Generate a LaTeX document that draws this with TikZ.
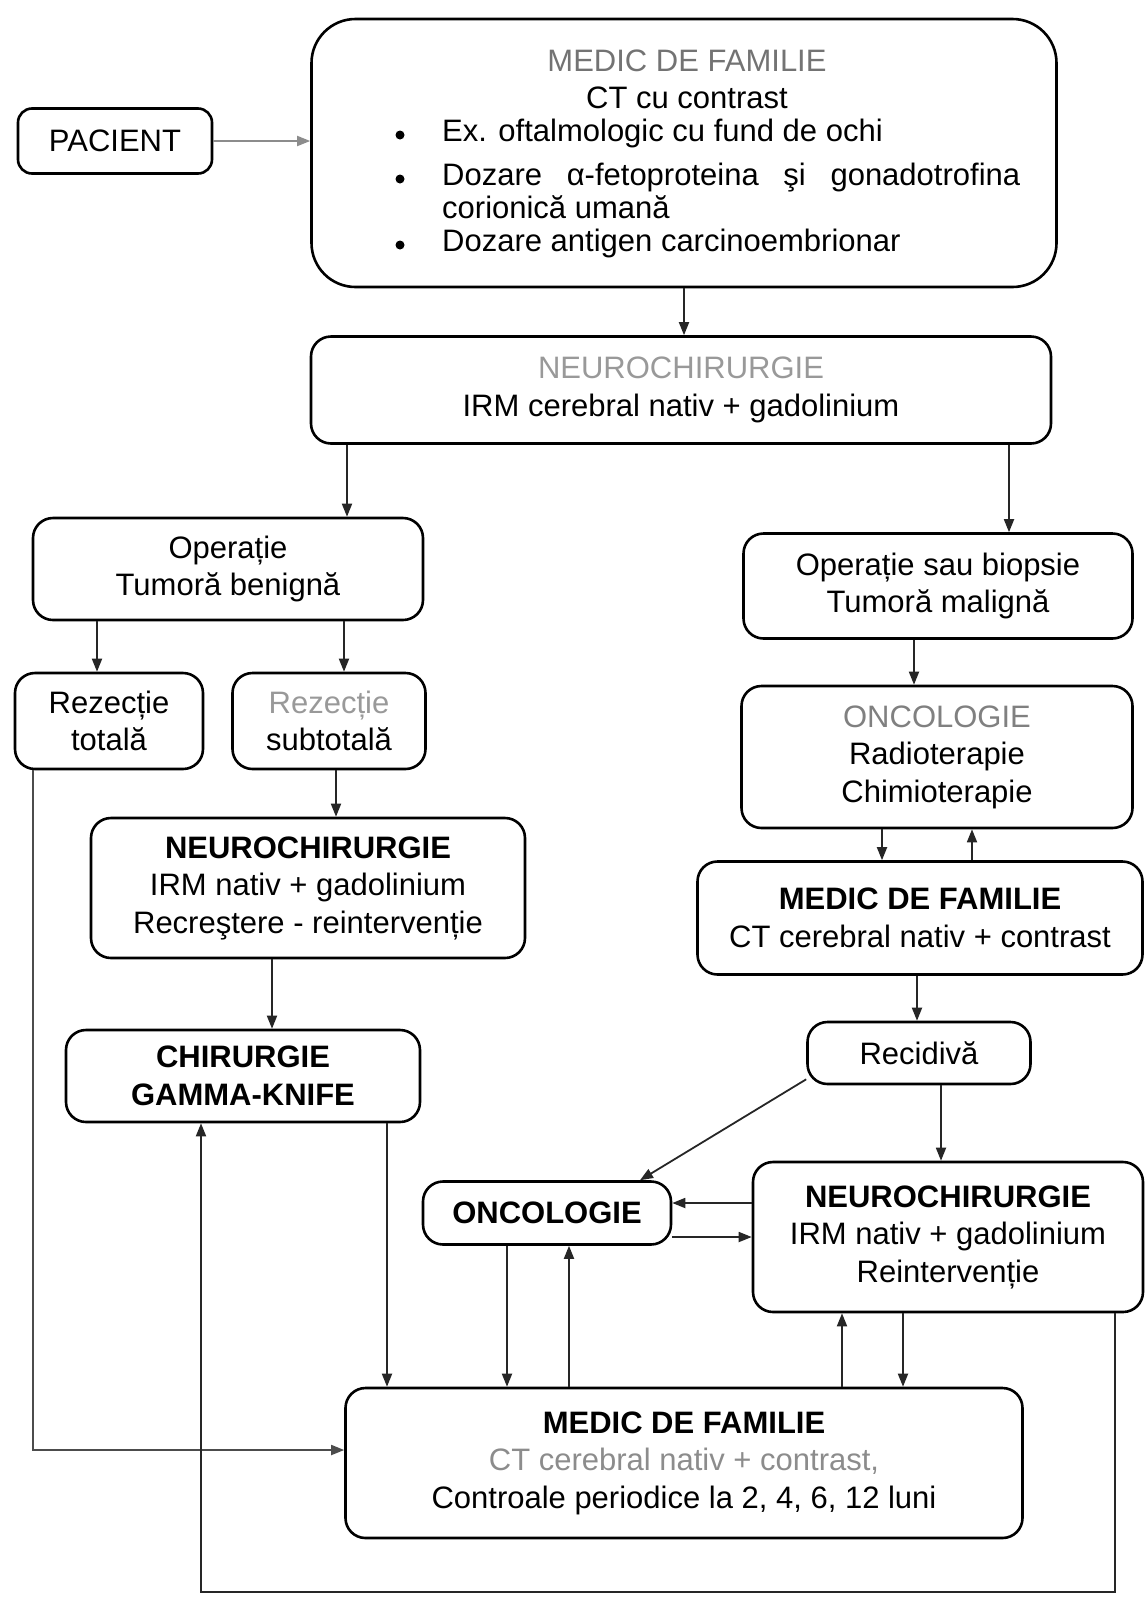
\documentclass[tikz,border=0pt]{standalone}
\usepackage{fontspec}
\setmainfont{Liberation Sans}
\usetikzlibrary{arrows.meta}

\begin{document}
\begin{tikzpicture}[
    x=1pt, y=-1pt,
    >={Triangle[length=13pt, width=10pt]},
    font=\fontsize{31}{37.5}\selectfont,
    box/.style={draw, line width=2.6pt, rounded corners=20pt, align=center, inner sep=0pt},
    txt/.style={inner sep=0pt, text height=22pt, text depth=6pt},
    dot/.style={circle, fill, inner sep=0pt, minimum size=9pt},
    link/.style={->, line width=1.8pt, black!85},
    faint/.style={->, line width=1.8pt, black!45}
]
    \useasboundingbox (0,0) rectangle (1146,1607);

    % Patient and first visit
    \node[box, minimum width=194pt, minimum height=65pt, rounded corners=14pt] (pacient) at (115,141) {PACIENT};
    \node[box, minimum width=745pt, minimum height=268pt, rounded corners=44pt] (medic1) at (684,153) {};
    \node[txt, black!55] (medic1t) at (687,63) {MEDIC DE FAMILIE};
    \node[txt] (medic1c) at (687,100) {CT cu contrast};
    % Bullet list
    \foreach \y/\n in {135/a, 179/b, 245/c}
        \node[dot] (dot\n) at (400,\y) {};
    \node[txt, anchor=west] (itema) at (442,133) {Ex. oftalmologic cu fund de ochi};
    \node[txt, anchor=west] (itemb) at (442,177) {\makebox[578pt][s]{Dozare α-fetoproteina şi gonadotrofina}};
    \node[txt, anchor=west] (itemb2) at (442,210) {corionică umană};
    \node[txt, anchor=west] (itemc) at (442,243) {Dozare antigen carcinoembrionar};

    % Surgery
    \node[box, minimum width=740pt, minimum height=107pt] (neuro1) at (681,390)
        {\textcolor{black!40}{NEUROCHIRURGIE}\\IRM cerebral nativ + gadolinium};
    \node[box, minimum width=390pt, minimum height=102pt] (opben) at (228,569) {Operație\\Tumoră benignă};
    \node[box, minimum width=389pt, minimum height=105pt] (opmal) at (938,586) {Operație sau biopsie\\Tumoră malignă};

    % Benign branch
    \node[box, minimum width=188pt, minimum height=96pt] (reztot) at (109,721) {Rezecție\\totală};
    \node[box, minimum width=193pt, minimum height=96pt] (rezsub) at (329,721) {\textcolor{black!40}{Rezecție}\\subtotală};
    \node[box, minimum width=434pt, minimum height=140pt] (neuro2) at (308,888)
        {\textbf{NEUROCHIRURGIE}\\IRM nativ + gadolinium\\Recreştere - reintervenție};
    \node[box, minimum width=354pt, minimum height=92pt] (chir) at (243,1076) {\textbf{CHIRURGIE}\\\textbf{GAMMA-KNIFE}};

    % Malignant branch
    \node[box, minimum width=391pt, minimum height=142pt] (onco1) at (937,757)
        {\textcolor{black!50}{ONCOLOGIE}\\Radioterapie\\Chimioterapie};
    \node[box, minimum width=445pt, minimum height=113pt] (medic2) at (920,918)
        {\textbf{MEDIC DE FAMILIE}\\CT cerebral nativ + contrast};
    \node[box, minimum width=223pt, minimum height=62pt] (recid) at (919,1053) {Recidivă};
    \node[box, minimum width=248pt, minimum height=63pt] (onco2) at (547,1213) {\textbf{ONCOLOGIE}};
    \node[box, minimum width=390pt, minimum height=150pt] (neuro3) at (948,1237)
        {\textbf{NEUROCHIRURGIE}\\IRM nativ + gadolinium\\Reintervenție};

    % Follow-up
    \node[box, minimum width=677pt, minimum height=150pt] (medic3) at (684,1463)
        {\textbf{MEDIC DE FAMILIE}\\\textcolor{black!45}{CT cerebral nativ + contrast,}\\Controale periodice la 2, 4, 6, 12 luni};

    % Arrows, top part
    \draw[faint] (pacient.east) -- (pacient.east -| medic1.west);
    \draw[link] (medic1.south) -- (medic1.south |- neuro1.north);
    \draw[link] (347,0 |- neuro1.south) -- (347,0 |- opben.north);
    \draw[link] (1009,0 |- neuro1.south) -- (1009,0 |- opmal.north);
    \draw[link] (97,0 |- opben.south) -- (97,0 |- reztot.north);
    \draw[link] (344,0 |- opben.south) -- (344,0 |- rezsub.north);
    \draw[link] (914,0 |- opmal.south) -- (914,0 |- onco1.north);
    \draw[link] (882,0 |- onco1.south) -- (882,0 |- medic2.north);
    \draw[link] (972,0 |- medic2.north) -- (972,0 |- onco1.south);

    % Benign branch arrows
    \draw[link] (336,0 |- rezsub.south) -- (336,0 |- neuro2.north);
    \draw[link] (272,0 |- neuro2.south) -- (272,0 |- chir.north);
    \draw[link] (387,0 |- chir.south) -- (387,0 |- medic3.north);
    \draw[link, black!70] (33,0 |- reztot.south) |- ([yshift=13pt]medic3.west);

    % Malignant branch arrows
    \draw[link] (917,0 |- medic2.south) -- (917,0 |- recid.north);
    \draw[link] ([yshift=6pt]recid.south west) -- (640,0 |- onco2.north);
    \draw[link] (941,0 |- recid.south) -- (941,0 |- neuro3.north);
    \draw[link] (neuro3.west |- 0,1203) -- (onco2.east |- 0,1203);
    \draw[link] (onco2.east |- 0,1237) -- (neuro3.west |- 0,1237);
    \draw[link] (507,0 |- onco2.south) -- (507,0 |- medic3.north);
    \draw[link] (569,0 |- medic3.north) -- (569,0 |- onco2.south);
    \draw[link] (842,0 |- medic3.north) -- (842,0 |- neuro3.south);
    \draw[link] (903,0 |- neuro3.south) -- (903,0 |- medic3.north);

    % Loop back to gamma-knife
    \draw[link] (1115,0 |- neuro3.south) |- (201,1592) -- (201,0 |- chir.south);

\end{tikzpicture}
\end{document}
